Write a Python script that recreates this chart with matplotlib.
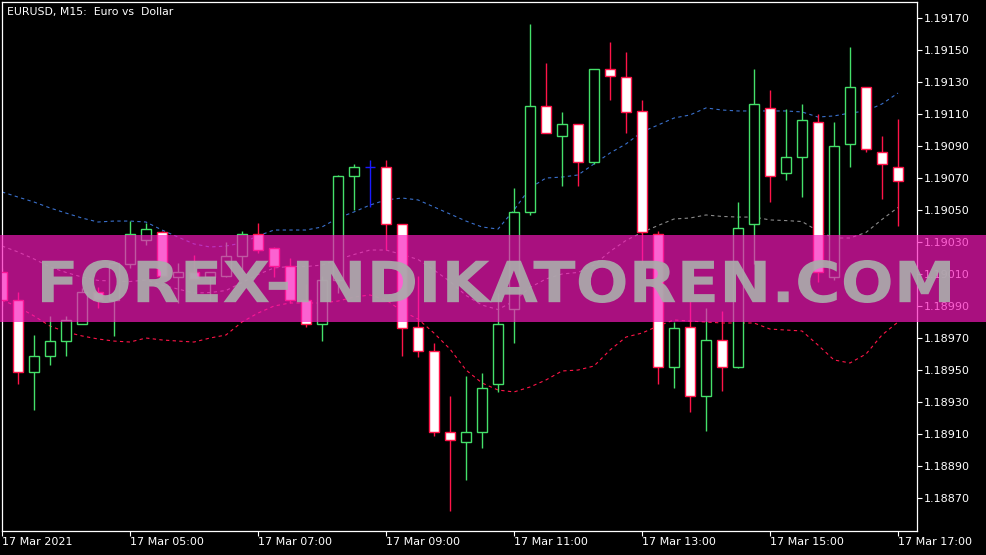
import matplotlib
matplotlib.use('Agg')
import matplotlib.pyplot as plt
from matplotlib.patches import Rectangle, PathPatch
from matplotlib.textpath import TextPath
from matplotlib.font_manager import FontProperties
from matplotlib.transforms import Affine2D
from matplotlib.ticker import FormatStrFormatter

# EURUSD M15 candles, 17 Mar 2021 03:00 .. 17:00
opens = [1.19011, 1.18994, 1.18949, 1.18959, 1.18968, 1.18979, 1.18999, 1.18994, 1.19016, 1.19031,
         1.19036, 1.19008, 1.19011, 1.19008, 1.19009, 1.19021, 1.19035, 1.19026, 1.19015, 1.18994,
         1.18979, 1.19006, 1.19071, 1.19077, 1.19077, 1.19041, 1.18977, 1.18962, 1.18911, 1.18905,
         1.18911, 1.18941, 1.18988, 1.19049, 1.19115, 1.19096, 1.19104, 1.19080, 1.19138, 1.19133,
         1.19112, 1.19035, 1.18952, 1.18977, 1.18934, 1.18969, 1.18952, 1.19041, 1.19114, 1.19073,
         1.19083, 1.19105, 1.19008, 1.19091, 1.19127, 1.19086, 1.19077]
highs = [1.19014, 1.18999, 1.18972, 1.18984, 1.18984, 1.19001, 1.19002, 1.19018, 1.19043, 1.19042,
         1.19037, 1.19017, 1.19022, 1.19011, 1.19030, 1.19037, 1.19042, 1.19027, 1.19020, 1.19004,
         1.19009, 1.19072, 1.19079, 1.19081, 1.19081, 1.19041, 1.19009, 1.18967, 1.18934, 1.18946,
         1.18948, 1.18998, 1.19064, 1.19166, 1.19142, 1.19111, 1.19104, 1.19138, 1.19155, 1.19149,
         1.19119, 1.19037, 1.18980, 1.18993, 1.18989, 1.18987, 1.19055, 1.19138, 1.19125, 1.19113,
         1.19116, 1.19110, 1.19105, 1.19152, 1.19127, 1.19096, 1.19107]
lows = [1.18990, 1.18941, 1.18925, 1.18953, 1.18959, 1.18979, 1.18989, 1.18971, 1.19014, 1.19028,
        1.19008, 1.18992, 1.19006, 1.18993, 1.19008, 1.19011, 1.19023, 1.19008, 1.18992, 1.18977,
        1.18968, 1.18998, 1.19050, 1.19052, 1.19025, 1.18959, 1.18958, 1.18909, 1.18862, 1.18881,
        1.18901, 1.18936, 1.18967, 1.19047, 1.19098, 1.19065, 1.19065, 1.19079, 1.19119, 1.19098,
        1.19016, 1.18941, 1.18939, 1.18924, 1.18912, 1.18937, 1.18951, 1.19016, 1.19055, 1.19069,
        1.19058, 1.19005, 1.19006, 1.19077, 1.19086, 1.19057, 1.19040]
closes = [1.18994, 1.18949, 1.18959, 1.18968, 1.18981, 1.18999, 1.18994, 1.19017, 1.19035, 1.19038,
          1.19009, 1.19011, 1.19007, 1.19011, 1.19021, 1.19035, 1.19025, 1.19015, 1.18994, 1.18979,
          1.19006, 1.19071, 1.19077, 1.19077, 1.19041, 1.18976, 1.18962, 1.18911, 1.18906, 1.18911,
          1.18939, 1.18979, 1.19049, 1.19115, 1.19098, 1.19104, 1.19080, 1.19138, 1.19134, 1.19111,
          1.19036, 1.18952, 1.18976, 1.18934, 1.18969, 1.18952, 1.19039, 1.19116, 1.19071, 1.19083,
          1.19106, 1.19011, 1.19090, 1.19127, 1.19088, 1.19079, 1.19068]

# envelope bands
upper = [1.190613, 1.190581, 1.190550, 1.190513, 1.190481, 1.190450, 1.190425, 1.190431, 1.190431, 1.190425,
         1.190375, 1.190331, 1.190288, 1.190269, 1.190275, 1.190294, 1.190338, 1.190375, 1.190375, 1.190375,
         1.190394, 1.190450, 1.190488, 1.190531, 1.190563, 1.190575, 1.190563, 1.190519, 1.190475, 1.190431,
         1.190394, 1.190381, 1.190500, 1.190638, 1.190700, 1.190706, 1.190719, 1.190788, 1.190856, 1.190913,
         1.190988, 1.191031, 1.191075, 1.191094, 1.191138, 1.191125, 1.191119, 1.191119, 1.191119, 1.191119,
         1.191113, 1.191081, 1.191088, 1.191106, 1.191119, 1.191163, 1.191231]
middle = [1.190275, 1.190238, 1.190194, 1.190144, 1.190110, 1.190081, 1.190060, 1.190056, 1.190053, 1.190063,
          1.190031, 1.190006, 1.189981, 1.189984, 1.189997, 1.190047, 1.190097, 1.190138, 1.190147, 1.190147,
          1.190156, 1.190191, 1.190222, 1.190250, 1.190250, 1.190222, 1.190191, 1.190125, 1.190053, 1.189966,
          1.189906, 1.189878, 1.189931, 1.190016, 1.190069, 1.190100, 1.190110, 1.190156, 1.190241, 1.190310,
          1.190360, 1.190403, 1.190444, 1.190450, 1.190469, 1.190460, 1.190456, 1.190456, 1.190438, 1.190434,
          1.190428, 1.190369, 1.190325, 1.190325, 1.190360, 1.190441, 1.190516]
lower = [1.189938, 1.189894, 1.189838, 1.189775, 1.189738, 1.189713, 1.189694, 1.189681, 1.189675, 1.189700,
         1.189688, 1.189681, 1.189675, 1.189700, 1.189719, 1.189800, 1.189856, 1.189900, 1.189919, 1.189919,
         1.189919, 1.189931, 1.189956, 1.189969, 1.189938, 1.189869, 1.189819, 1.189731, 1.189631, 1.189500,
         1.189419, 1.189375, 1.189363, 1.189394, 1.189438, 1.189494, 1.189500, 1.189525, 1.189625, 1.189706,
         1.189731, 1.189775, 1.189813, 1.189806, 1.189800, 1.189794, 1.189794, 1.189794, 1.189756, 1.189750,
         1.189744, 1.189656, 1.189563, 1.189544, 1.189600, 1.189719, 1.189800]

time_labels = ["17 Mar 2021", "17 Mar 05:00", "17 Mar 07:00", "17 Mar 09:00",
               "17 Mar 11:00", "17 Mar 13:00", "17 Mar 15:00", "17 Mar 17:00"]
price_ticks = [1.18870, 1.18890, 1.18910, 1.18930, 1.18950, 1.18970, 1.18990, 1.19010,
               1.19030, 1.19050, 1.19070, 1.19090, 1.19110, 1.19130, 1.19150, 1.19170]

BULL = '#44e06a'
BEAR = '#ff1448'
DOJI = '#1a1aff'

W, H = 987, 555
fig = plt.figure(figsize=(W / 100, H / 100), dpi=100, facecolor='black')
ax = fig.add_axes([2 / W, 24 / H, 915 / W, 529 / H], facecolor='black')

n = len(opens)
xs = list(range(n))

# bands
ax.plot(xs, upper, color='#3a70cc', lw=0.8, dashes=(3, 3), zorder=1)
ax.plot(xs, middle, color='#8a8a8a', lw=0.8, dashes=(3, 3), zorder=1)
ax.plot(xs, lower, color=BEAR, lw=0.8, dashes=(3, 3), zorder=1)

for i in xs:
    o, h, l, c = opens[i], highs[i], lows[i], closes[i]
    if c > o:
        ec, fc = BULL, 'black'
    elif c < o:
        ec, fc = BEAR, 'white'
    else:
        ec, fc = DOJI, DOJI
    ax.vlines(i, l, h, color=ec, lw=1.0, zorder=2)
    ax.bar(i, abs(c - o), bottom=min(o, c), width=0.62, facecolor=fc,
           edgecolor=ec, linewidth=1.0, zorder=3)

ax.set_xlim(0, 915 / 16)
ax.set_ylim(1.188494, 1.1918)

# axes styling
for s in ax.spines.values():
    s.set_color('white')
    s.set_linewidth(0.9)
ax.yaxis.tick_right()
ax.set_yticks(price_ticks)
ax.yaxis.set_major_formatter(FormatStrFormatter('%.5f'))
ax.set_xticks(range(0, n, 8))
ax.set_xticklabels(time_labels, ha='left')
ax.tick_params(colors='white', labelsize=8, length=3.5, width=0.8, direction='out')
ax.tick_params(axis='x', pad=1)
ax.tick_params(axis='y', pad=1.5)

fig.text(7 / W, 1 - 12 / H, "EURUSD, M15:  Euro vs  Dollar", color='white',
         fontsize=7.8, va='center', ha='left')

# watermark band
band = Rectangle((0, (H - 322) / H), 1, 87 / H, transform=fig.transFigure,
                 facecolor='#fa18bc', alpha=0.68, edgecolor='none', zorder=5)
fig.add_artist(band)

tp = TextPath((0, 0), "FOREX-INDIKATOREN.COM", size=1,
              prop=FontProperties(family='DejaVu Sans', weight='bold'))
bb = tp.get_extents()
x0, x1 = 42, 950
y_bot, y_top = H - 303, H - 260
tr = Affine2D().translate(-bb.x0, -bb.y0).scale((x1 - x0) / bb.width,
                                                 (y_top - y_bot) / bb.height).translate(x0, y_bot)
wm = PathPatch(tp, transform=tr, facecolor='#ababab', edgecolor='none', alpha=0.92, zorder=6)
fig.add_artist(wm)

plt.savefig('out.png', dpi=100, facecolor='black')
print('Saved out.png')
